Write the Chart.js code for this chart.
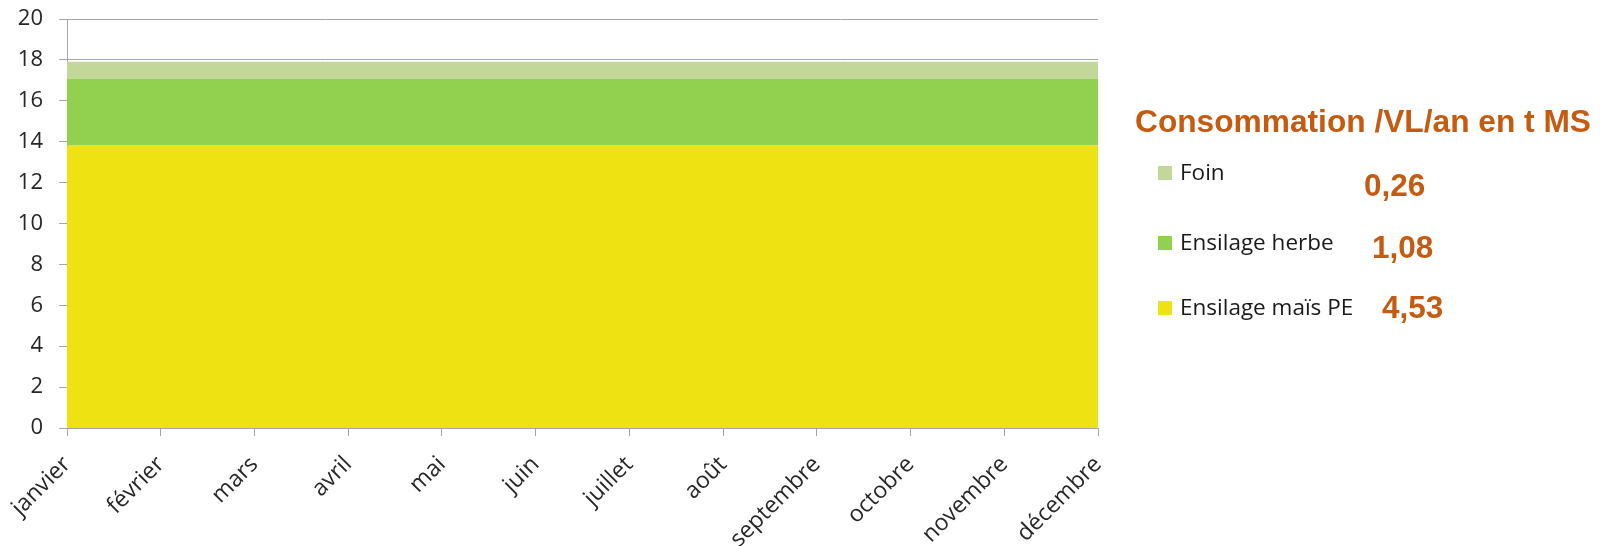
<!DOCTYPE html>
<html lang="fr">
<head>
<meta charset="utf-8">
<title>Consommation /VL/an</title>
<script src="https://cdn.jsdelivr.net/npm/chart.js@4/dist/chart.umd.min.js"></script>
<style>
    html, body { margin: 0; padding: 0; background: #fff; }
    #wrap { position: relative; width: 1606px; height: 546px; }
    #chart { position: absolute; left: 0; top: 0; }
    #legend-title {
        position: absolute; left: 1135px; top: 105px;
        font: bold 31.7px "Liberation Sans", Arial, sans-serif;
        color: #C55A11; white-space: nowrap; line-height: 32px;
    }
    .leg-item {
        position: absolute; left: 1158px;
        font: 22.5px "Open Sans", sans-serif; color: #1a1a1a;
        white-space: nowrap; line-height: 22px;
    }
    .leg-box { position: absolute; width: 14px; height: 14px; left: 0; }
    .leg-label { position: absolute; left: 22px; top: 0; }
    .leg-value {
        position: absolute;
        font: bold 31.5px "Liberation Sans", Arial, sans-serif;
        color: #C55A11; line-height: 30px;
    }
</style>
</head>
<body>
<div id="wrap">
    <canvas id="chart" width="1606" height="546"></canvas>
    <div id="legend-title">Consommation /VL/an en t MS</div>
</div>
<script>
// mois (axe des x)
const mois = ['janvier', 'février', 'mars', 'avril', 'mai', 'juin',
    'juillet', 'août', 'septembre', 'octobre', 'novembre', 'décembre'];

// valeurs empilées
const ensilageMais = [13.82, 13.82, 13.82, 13.82, 13.82, 13.82, 13.82, 13.82, 13.82, 13.82, 13.82, 13.82];
const ensilageHerbe = [3.26, 3.26, 3.26, 3.26, 3.26, 3.26, 3.26, 3.26, 3.26, 3.26, 3.26, 3.26];
const foin = [0.83, 0.83, 0.83, 0.83, 0.83, 0.83, 0.83, 0.83, 0.83, 0.83, 0.83, 0.83];

// légende de droite
const legendeNoms = ['Foin', 'Ensilage herbe', 'Ensilage maïs PE'];
const legendeValeurs = ['0,26', '1,08', '4,53'];

// axe y
const yMin = 0;
const yMax = 20;
const yPas = 2;

const couleurs = {
    'Foin': '#C4D79B',
    'Ensilage herbe': '#92D050',
    'Ensilage maïs PE': '#EEE212'
};

// positions de la légende (haut de chaque ligne, x / y de la valeur)
const legendeTop = [161, 231, 296];
const valeurPos = [[1364, 170], [1372, 232], [1382, 292]];

const wrap = document.getElementById('wrap');
legendeNoms.forEach((nom, i) => {
    const item = document.createElement('div');
    item.className = 'leg-item';
    item.style.top = legendeTop[i] + 'px';
    const box = document.createElement('div');
    box.className = 'leg-box';
    box.style.background = couleurs[nom];
    box.style.top = '5px';
    const lab = document.createElement('span');
    lab.className = 'leg-label';
    lab.textContent = nom;
    item.appendChild(box);
    item.appendChild(lab);
    wrap.appendChild(item);

    const val = document.createElement('div');
    val.className = 'leg-value';
    val.style.left = valeurPos[i][0] + 'px';
    val.style.top = valeurPos[i][1] + 'px';
    val.textContent = legendeValeurs[i];
    wrap.appendChild(val);
});

const grisAxe = '#A6A6A6';
const texteAxe = '#262626';

const ctx = document.getElementById('chart').getContext('2d');
const chart = new Chart(ctx, {
    type: 'line',
    data: {
        labels: mois,
        datasets: [
            {
                label: 'Ensilage maïs PE',
                data: ensilageMais,
                backgroundColor: couleurs['Ensilage maïs PE'],
                borderWidth: 0,
                pointRadius: 0,
                fill: 'origin'
            },
            {
                label: 'Ensilage herbe',
                data: ensilageHerbe,
                backgroundColor: couleurs['Ensilage herbe'],
                borderWidth: 0,
                pointRadius: 0,
                fill: '-1'
            },
            {
                label: 'Foin',
                data: foin,
                backgroundColor: couleurs['Foin'],
                borderWidth: 0,
                pointRadius: 0,
                fill: '-1'
            }
        ]
    },
    options: {
        responsive: false,
        animation: false,
        layout: {
            padding: { top: 19, right: 508, left: 0, bottom: 0 }
        },
        plugins: {
            legend: { display: false },
            tooltip: { enabled: false }
        },
        scales: {
            x: {
                offset: false,
                grid: {
                    drawOnChartArea: false,
                    drawTicks: true,
                    tickLength: 8,
                    color: grisAxe
                },
                border: { color: grisAxe, width: 1 },
                ticks: {
                    autoSkip: false,
                    maxRotation: 45,
                    minRotation: 45,
                    padding: 15,
                    color: texteAxe,
                    font: { family: 'Open Sans', size: 23 }
                },
                afterFit: (scale) => { scale.height = 118; }
            },
            y: {
                stacked: true,
                min: yMin,
                max: yMax,
                grid: {
                    color: grisAxe,
                    tickLength: 8
                },
                border: { color: grisAxe, width: 1 },
                ticks: {
                    stepSize: yPas,
                    padding: 16,
                    color: texteAxe,
                    font: { family: 'Open Sans', size: 22 }
                },
                afterFit: (scale) => {
                    scale.width = 67;
                    // le padding des étiquettes ne doit pas décaler la zone du graphique
                    scale.paddingTop = 10;
                    scale.paddingBottom = 10;
                }
            }
        }
    }
});
</script>
</body>
</html>
